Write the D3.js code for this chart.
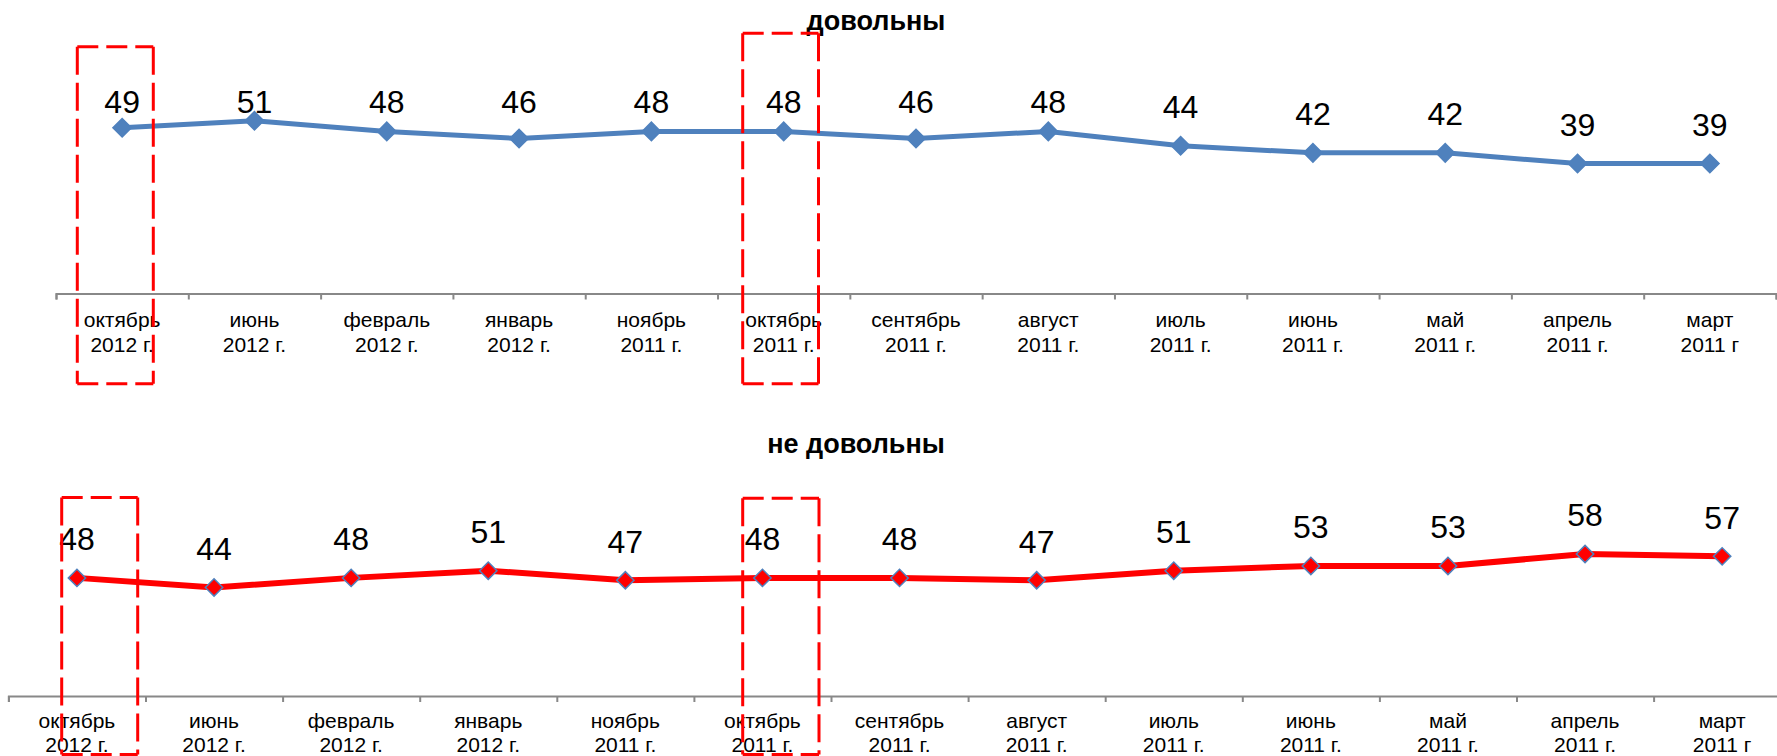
<!DOCTYPE html>
<html>
<head>
<meta charset="utf-8">
<script src="https://cdn.jsdelivr.net/npm/d3@7"></script>
<style>
  html, body { margin: 0; padding: 0; background: #fff; }
  svg { display: block; font-family: "Liberation Sans", Arial, sans-serif; }
</style>
</head>
<body>
<div id="chart"></div>
<script>
// Data: survey waves, newest first
const months = ["октябрь", "июнь", "февраль", "январь", "ноябрь", "октябрь", "сентябрь",
                "август", "июль", "июнь", "май", "апрель", "март"];
const years = ["2012 г.", "2012 г.", "2012 г.", "2012 г.", "2011 г.", "2011 г.", "2011 г.",
               "2011 г.", "2011 г.", "2011 г.", "2011 г.", "2011 г.", "2011 г"];
const satisfied = [49, 51, 48, 46, 48, 48, 46, 48, 44, 42, 42, 39, 39];
const dissatisfied = [48, 44, 48, 51, 47, 48, 48, 47, 51, 53, 53, 58, 57];

const W = 1777, H = 756;

const svg = d3.select("#chart").append("svg")
    .attr("width", W).attr("height", H)
    .attr("viewBox", `0 0 ${W} ${H}`);

// Layout of the two panels
const panels = [
    {
        title: "довольны", titleX: 876, titleY: 30,
        values: satisfied,
        xRange: [56, 1776], axisY: 293.5,
        yMax: 60, yRange: [303, 88.5],
        lineColor: "#4F81BD", lineWidth: 5,
        markerFill: "#4F81BD", markerStroke: "#4F81BD", markerSize: 170,
        tickLines: [33, 58]
    },
    {
        title: "не довольны", titleX: 856, titleY: 453,
        values: dissatisfied,
        xRange: [8.4, 1790.7], axisY: 696,
        yMax: 80, yRange: [692.6, 501.4],
        lineColor: "#FF0000", lineWidth: 6,
        markerFill: "#FF0000", markerStroke: "#4F81BD", markerSize: 150,
        tickLines: [32, 55.5]
    }
];

// Red dashed highlight boxes (annotations, page coordinates)
const highlights = [
    {x0: 77.3, y0: 46.7, x1: 153.3, y1: 383.7},
    {x0: 742.7, y0: 33.3, x1: 818.5, y1: 383.7},
    {x0: 61.7, y0: 497.5, x1: 137.7, y1: 754.5},
    {x0: 742.7, y0: 498.3, x1: 819, y1: 754.5}
];

const idx = d3.range(months.length);

panels.forEach(p => {
    const g = svg.append("g");

    const x = d3.scaleBand().domain(idx).range(p.xRange).padding(0);
    const xTicks = d3.scaleLinear().domain([0, months.length]).range(p.xRange);
    const y = d3.scaleLinear().domain([0, p.yMax]).range(p.yRange);
    const cx = i => x(i) + x.bandwidth() / 2;

    // Category axis with ticks between categories
    const axis = g.append("g")
        .attr("transform", `translate(0,${p.axisY})`)
        .call(d3.axisBottom(xTicks)
            .tickValues(d3.range(0, months.length + 1))
            .tickSize(6)
            .tickSizeOuter(6)
            .tickFormat(""));
    axis.select(".domain").attr("stroke", "#888").attr("stroke-width", 2);
    axis.selectAll(".tick line").attr("stroke", "#888").attr("stroke-width", 2);

    const lbl = g.append("g").selectAll("text")
        .data(idx)
        .enter().append("text")
        .attr("text-anchor", "middle")
        .style("font-size", "21px")
        .style("fill", "#000");
    lbl.append("tspan")
        .attr("x", d => cx(d))
        .attr("y", p.axisY + p.tickLines[0])
        .text(d => months[d]);
    lbl.append("tspan")
        .attr("x", d => cx(d))
        .attr("y", p.axisY + p.tickLines[1])
        .text(d => years[d]);

    // Title
    g.append("text")
        .attr("x", p.titleX)
        .attr("y", p.titleY)
        .attr("text-anchor", "middle")
        .style("font-size", "27px")
        .style("font-weight", "bold")
        .style("fill", "#000")
        .text(p.title);

    // Line
    const line = d3.line().x((d, i) => cx(i)).y(d => y(d));
    g.append("path")
        .datum(p.values)
        .attr("d", line)
        .attr("fill", "none")
        .attr("stroke", p.lineColor)
        .attr("stroke-width", p.lineWidth)
        .attr("stroke-linejoin", "round");

    // Diamond markers
    g.append("g").selectAll("path")
        .data(p.values)
        .enter().append("path")
        .attr("d", d3.symbol(d3.symbolSquare, p.markerSize))
        .attr("transform", (d, i) => `translate(${cx(i)},${y(d)}) rotate(45)`)
        .attr("fill", p.markerFill)
        .attr("stroke", p.markerStroke)
        .attr("stroke-width", 1.5);

    // Value labels above points, kept inside the plot area
    const minBaseline = y(p.yMax) + 24;
    g.append("g").selectAll("text")
        .data(p.values)
        .enter().append("text")
        .attr("x", (d, i) => cx(i))
        .attr("y", d => Math.max(y(d) - 27.5, minBaseline))
        .attr("text-anchor", "middle")
        .style("font-size", "32px")
        .style("fill", "#000")
        .text(d => d);
});

// Highlight boxes: horizontal and vertical edges have different dash lengths
const hl = svg.append("g")
    .attr("stroke", "#FF0000")
    .attr("stroke-width", 3)
    .attr("fill", "none");
highlights.forEach(b => {
    [[b.x0, b.y0, b.x1, b.y0], [b.x0, b.y1, b.x1, b.y1]].forEach(s => {
        hl.append("line").attr("x1", s[0]).attr("y1", s[1]).attr("x2", s[2]).attr("y2", s[3])
            .attr("stroke-dasharray", "21,8");
    });
    [[b.x0, b.y0, b.x0, b.y1], [b.x1, b.y0, b.x1, b.y1]].forEach(s => {
        hl.append("line").attr("x1", s[0]).attr("y1", s[1]).attr("x2", s[2]).attr("y2", s[3])
            .attr("stroke-dasharray", "28,8");
    });
});
</script>
</body>
</html>
